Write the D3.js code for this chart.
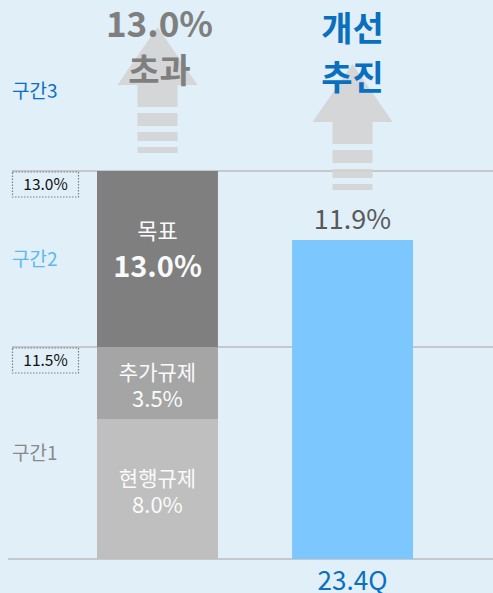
<!DOCTYPE html>
<html>
<head>
<meta charset="utf-8">
<script src="https://cdn.jsdelivr.net/npm/d3@7"></script>
<style>
  html, body { margin: 0; padding: 0; background: #e0eff8; }
  svg { display: block; font-family: "Noto Sans CJK KR", "Noto Sans", sans-serif; }
</style>
</head>
<body>
<svg id="chart" width="493" height="593"></svg>
<script>
// data
const barNames = ["목표", "23.4Q"];
const stackNames = ["현행규제", "추가규제", "목표"];
const stackValues = [8.0, 3.5, 1.5];       // 8.0 + 3.5 + 1.5 = 13.0
const stackLabels = ["8.0%", "3.5%", "13.0%"];
const actualValue = 11.9;
const actualLabel = "11.9%";
const thresholds = [11.5, 13.0];
const thresholdLabels = ["11.5%", "13.0%"];
const zoneNames = ["구간1", "구간2", "구간3"];
const zoneBounds = [0, 11.5, 13.0, 15.0];
const arrowTexts = [["13.0%", "초과"], ["개선", "추진"]];

const svg = d3.select("#chart");
const W = 493, H = 593;

// the picture is not drawn to scale, so the y scale is piecewise
const y = d3.scaleLinear()
  .domain([0, 8, 11.5, 11.9, 13, 15])
  .range([559, 419, 347, 240, 171, 10]);

const x = d3.scaleBand()
  .domain(barNames)
  .range([97, 413])
  .paddingInner(0.38)
  .paddingOuter(0);

const bw = x.bandwidth();

// gridlines
svg.append("g").selectAll("line")
  .data([0].concat(thresholds))
  .join("line")
    .attr("x1", d => d === 0 ? 8 : 12)
    .attr("x2", W)
    .attr("y1", d => y(d))
    .attr("y2", d => y(d))
    .attr("stroke", "#bdbdbd")
    .attr("stroke-width", 1.5);

// zone labels
const zoneColors = ["#8a8a8a", "#5cb8ef", "#0a6fbe"];
svg.append("g").selectAll("text")
  .data(zoneNames)
  .join("text")
    .attr("x", 12)
    .attr("y", (d, i) => (y(zoneBounds[i]) + y(zoneBounds[i + 1])) / 2 + 7)
    .attr("font-size", 19)
    .attr("fill", (d, i) => zoneColors[i])
    .text(d => d);

// threshold boxes
const tb = svg.append("g").selectAll("g")
  .data(thresholds)
  .join("g")
    .attr("transform", d => `translate(12,${y(d)})`);
tb.append("rect")
  .attr("x", 0.5).attr("y", 1)
  .attr("width", 66).attr("height", 25)
  .attr("fill", "none")
  .attr("stroke", "#808080")
  .attr("stroke-width", 1.2)
  .attr("stroke-dasharray", "1.5,1.5");
tb.append("text")
  .attr("x", 33.5).attr("y", 19)
  .attr("text-anchor", "middle")
  .attr("font-size", 15.5)
  .attr("fill", "#111")
  .text((d, i) => thresholdLabels[i]);

// arrows (drawn before text so the text sits on top)
function arrowPath(cx, tip) {
  const base = tip + 58, shaftEnd = base + 22;
  return `M${cx},${tip} L${cx + 40},${base} L${cx + 20},${base} L${cx + 20},${shaftEnd}
          L${cx - 20},${shaftEnd} L${cx - 20},${base} L${cx - 40},${base} Z`;
}
const stripes = [[28, 41], [47, 56], [62, 68]];
const arrowTips = [27, 64];
barNames.forEach((b, i) => {
  const cx = x(b) + bw / 2;
  const g = svg.append("g").attr("fill", "#d3d3d3").attr("fill-opacity", 0.9);
  g.append("path").attr("d", arrowPath(cx, arrowTips[i]));
  const shaftEnd = arrowTips[i] + 80;
  g.selectAll("rect")
    .data(stripes)
    .join("rect")
      .attr("x", cx - 20)
      .attr("width", 40)
      .attr("y", d => shaftEnd + d[0] - 22)
      .attr("height", d => d[1] - d[0]);
});

// stacked bar
let acc = 0;
const stack = stackValues.map((v, i) => {
  const s = { name: stackNames[i], y0: acc, y1: acc + v, label: stackLabels[i] };
  acc += v;
  return s;
});
const stackColors = ["#bfbfbf", "#a5a5a5", "#7f7f7f"];
const bx = x(barNames[0]);

svg.append("g").selectAll("rect")
  .data(stack)
  .join("rect")
    .attr("x", bx)
    .attr("width", bw)
    .attr("y", d => y(d.y1))
    .attr("height", d => y(d.y0) - y(d.y1))
    .attr("fill", (d, i) => stackColors[i]);

const lab = svg.append("g")
  .attr("text-anchor", "middle")
  .attr("fill", "#fafafa");
stack.forEach((d, i) => {
  const mid = (y(d.y0) + y(d.y1)) / 2;
  const cx = bx + bw / 2;
  if (i === 2) {
    lab.append("text").attr("x", cx).attr("y", mid - 20)
      .attr("font-size", 22).text(d.name);
    lab.append("text").attr("x", cx).attr("y", mid + 18)
      .attr("font-size", 29).attr("font-weight", "bold").text(d.label);
  } else {
    lab.append("text").attr("x", cx).attr("y", mid - 3)
      .attr("font-size", 21).text(d.name);
    lab.append("text").attr("x", cx).attr("y", mid + 24)
      .attr("font-size", 22).text(d.label);
  }
});

// actual bar
const ax = x(barNames[1]);
svg.append("rect")
  .attr("x", ax)
  .attr("width", bw)
  .attr("y", y(actualValue))
  .attr("height", y(0) - y(actualValue))
  .attr("fill", "#7cc8fe");

svg.append("text")
  .attr("x", ax + bw / 2)
  .attr("y", y(actualValue) - 11)
  .attr("text-anchor", "middle")
  .attr("font-size", 27)
  .attr("fill", "#595959")
  .text(actualLabel);

svg.append("text")
  .attr("x", ax + bw / 2)
  .attr("y", y(0) + 31)
  .attr("text-anchor", "middle")
  .attr("font-size", 26)
  .attr("fill", "#0a6fbe")
  .text(barNames[1]);

// headline texts over the arrows
const headColors = ["#7f7f7f", "#0a6fbe"];
const headY = [[37, 83], [41, 90]];
const headSize = [[35, 34], [34, 34]];
arrowTexts.forEach((lines, i) => {
  const cx = x(barNames[i]) + bw / 2;
  lines.forEach((t, j) => {
    svg.append("text")
      .attr("x", cx + (i === 0 ? 2 : 0))
      .attr("y", headY[i][j])
      .attr("text-anchor", "middle")
      .attr("font-size", headSize[i][j])
      .attr("font-weight", "bold")
      .attr("fill", headColors[i])
      .text(t);
  });
});
</script>
</body>
</html>
